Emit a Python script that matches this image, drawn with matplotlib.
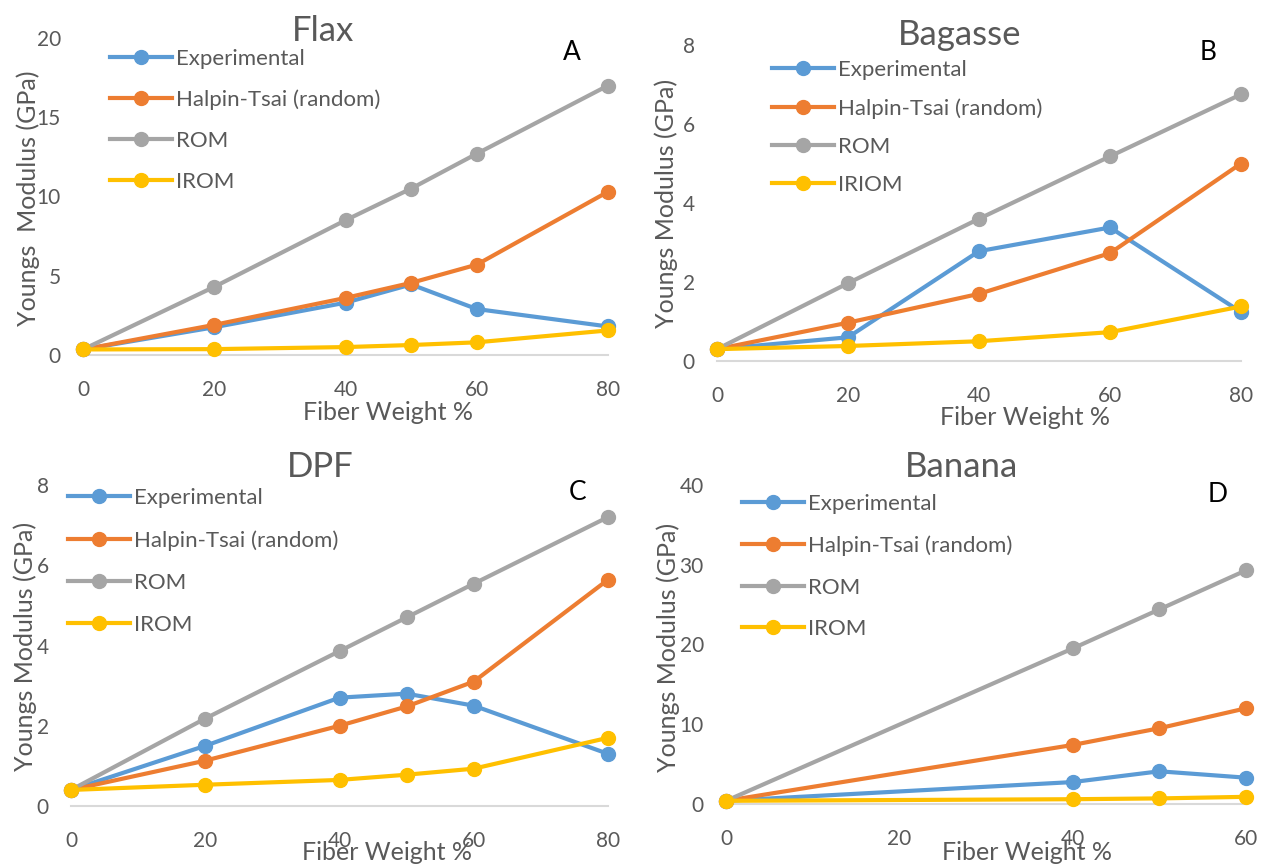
import matplotlib
matplotlib.use("Agg")
import matplotlib.pyplot as plt

plt.rcParams['font.family'] = ['Lato', 'DejaVu Sans']

W, H = 1263, 865

SERIES = ['Experimental', 'Halpin-Tsai (random)', 'ROM', 'IROM']
COLORS = ['#5B9BD5', '#ED7D31', '#A5A5A5', '#FFC000']
TEXT_GRAY = '#595959'

# Flax
flax_x = [0, 20, 40, 50, 60, 80]
flax_exp = [0.35, 1.75, 3.3, 4.45, 2.9, 1.8]
flax_ht = [0.35, 1.9, 3.6, 4.55, 5.7, 10.3]
flax_rom = [0.35, 4.3, 8.5, 10.5, 12.7, 17.0]
flax_irom = [0.35, 0.37, 0.5, 0.63, 0.8, 1.55]

# Bagasse
bag_x = [0, 20, 40, 60, 80]
bag_exp = [0.3, 0.6, 2.78, 3.38, 1.24]
bag_ht = [0.3, 0.97, 1.7, 2.73, 5.0]
bag_rom = [0.3, 1.97, 3.6, 5.18, 6.75]
bag_irom = [0.3, 0.38, 0.5, 0.73, 1.38]

# DPF
dpf_x = [0, 20, 40, 50, 60, 80]
dpf_exp = [0.4, 1.5, 2.7, 2.8, 2.5, 1.3]
dpf_ht = [0.4, 1.13, 2.0, 2.48, 3.1, 5.64]
dpf_rom = [0.4, 2.18, 3.86, 4.7, 5.54, 7.2]
dpf_irom = [0.4, 0.53, 0.65, 0.78, 0.93, 1.7]

# Banana
ban_x = [0, 40, 50, 60]
ban_exp = [0.4, 2.75, 4.1, 3.3]
ban_ht = [0.4, 7.4, 9.5, 12.0]
ban_rom = [0.4, 19.5, 24.4, 29.3]
ban_irom = [0.4, 0.6, 0.7, 0.9]


def fx(px):
    return px / W


def fy(py):
    return 1 - py / H


panels = [
    dict(x=flax_x, ys=[flax_exp, flax_ht, flax_rom, flax_irom],
         labels=SERIES, title='Flax', letter='A',
         ylabel='Youngs  Modulus (GPa)',
         box=(83, 38, 608, 355), ylim=20, yticks=[0, 5, 10, 15, 20],
         xticks=[0, 20, 40, 60, 80],
         title_xy=(323, 31), letter_xy=(572, 52),
         ylabel_xy=(28, 198), xlabel_xy=(388, 412),
         leg_xy=(110, 49), leg_sp=0.93),
    dict(x=bag_x, ys=[bag_exp, bag_ht, bag_rom, bag_irom],
         labels=['Experimental', 'Halpin-Tsai (random)', 'ROM', 'IRIOM'],
         title='Bagasse', letter='B',
         ylabel='Youngs Modulus (GPa)',
         box=(717, 45, 1241, 361), ylim=8, yticks=[0, 2, 4, 6, 8],
         xticks=[0, 20, 40, 60, 80],
         title_xy=(960, 35), letter_xy=(1208, 52),
         ylabel_xy=(666, 203), xlabel_xy=(1025, 417),
         leg_xy=(772, 60), leg_sp=0.82),
    dict(x=dpf_x, ys=[dpf_exp, dpf_ht, dpf_rom, dpf_irom],
         labels=SERIES, title='DPF', letter='C',
         ylabel='Youngs Modulus (GPa)',
         box=(71, 485, 608, 806), ylim=8, yticks=[0, 2, 4, 6, 8],
         xticks=[0, 20, 40, 60, 80],
         title_xy=(320, 467), letter_xy=(578, 493),
         ylabel_xy=(25, 646), xlabel_xy=(387, 852),
         leg_xy=(68, 488), leg_sp=1.0),
    dict(x=ban_x, ys=[ban_exp, ban_ht, ban_rom, ban_irom],
         labels=SERIES, title='Banana', letter='D',
         ylabel='Youngs Modulus (GPa)',
         box=(726, 485, 1246, 804), ylim=40, yticks=[0, 10, 20, 30, 40],
         xticks=[0, 20, 40, 60],
         title_xy=(962, 467), letter_xy=(1218, 495),
         ylabel_xy=(668, 647), xlabel_xy=(1027, 853),
         leg_xy=(742, 494), leg_sp=0.97),
]

fig = plt.figure(figsize=(W / 100, H / 100), dpi=100)

for p in panels:
    x0, y0, x1, y1 = p['box']
    ax = fig.add_axes([fx(x0), fy(y1), (x1 - x0) / W, (y1 - y0) / H])
    for ys, lab, col in zip(p['ys'], p['labels'], COLORS):
        ax.plot(p['x'], ys, color=col, lw=3, marker='o', ms=10,
                label=lab, clip_on=False, zorder=3)
    ax.set_xlim(p['xticks'][0], p['xticks'][-1])
    ax.set_ylim(0, p['ylim'])
    ax.set_xticks(p['xticks'])
    ax.set_yticks(p['yticks'])
    for s in ['top', 'right', 'left']:
        ax.spines[s].set_visible(False)
    ax.spines['bottom'].set_color('#D9D9D9')
    ax.spines['bottom'].set_linewidth(1.5)
    ax.spines['bottom'].set_zorder(1)
    ax.tick_params(axis='both', length=0, labelsize=15, colors=TEXT_GRAY)
    ax.tick_params(axis='x', pad=18)
    ax.tick_params(axis='y', pad=16)
    ax.patch.set_alpha(0)

    fig.text(fx(p['title_xy'][0]), fy(p['title_xy'][1]), p['title'],
             fontsize=25, color=TEXT_GRAY, ha='center', va='center')
    fig.text(fx(p['letter_xy'][0]), fy(p['letter_xy'][1]), p['letter'],
             fontsize=19, color='black', ha='center', va='center')
    fig.text(fx(p['ylabel_xy'][0]), fy(p['ylabel_xy'][1]), p['ylabel'],
             fontsize=18, color=TEXT_GRAY, ha='center', va='center',
             rotation=90)
    fig.text(fx(p['xlabel_xy'][0]), fy(p['xlabel_xy'][1]), 'Fiber Weight %',
             fontsize=18, color=TEXT_GRAY, ha='center', va='center')

    ax.legend(loc='upper left', bbox_to_anchor=(fx(p['leg_xy'][0]), fy(p['leg_xy'][1])),
              bbox_transform=fig.transFigure, frameon=False, fontsize=16,
              handlelength=2.8, handletextpad=0.15, labelspacing=p['leg_sp'],
              borderpad=0, borderaxespad=0, labelcolor=TEXT_GRAY)

fig.savefig('out.png', dpi=100)
